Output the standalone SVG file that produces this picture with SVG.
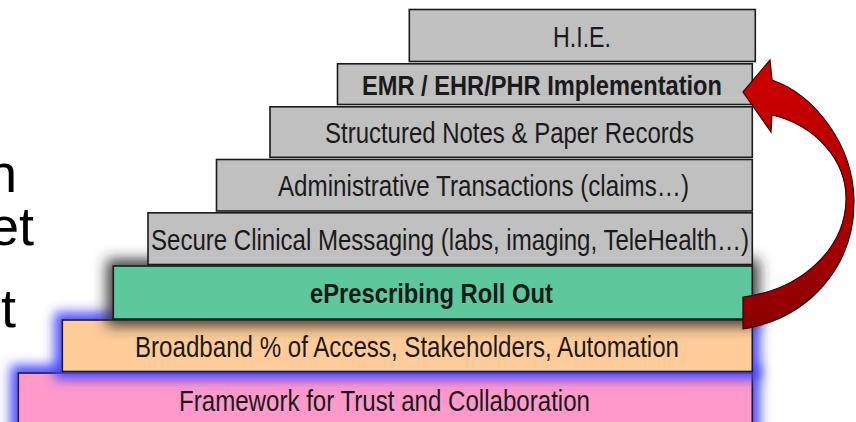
<svg xmlns="http://www.w3.org/2000/svg" width="856" height="422" viewBox="0 0 856 422">
  <style>
    .bar { stroke: #1a1a1a; stroke-width: 1.6; }
    .gray { fill: #c0c0c0; }
    .lbl { font-family: "Liberation Sans", Arial, sans-serif; font-size: 29px; fill: #1a1a1a; text-anchor: middle; }
    .bold { font-weight: bold; font-size: 27px; }
    .side { font-family: "Liberation Sans", Arial, sans-serif; font-size: 54px; fill: #000; text-anchor: end; }
  </style>
  <defs>
    <filter id="glowBlue" filterUnits="userSpaceOnUse" x="-20" y="280" width="900" height="160">
      <feMorphology in="SourceAlpha" operator="dilate" radius="7" result="d"/>
      <feGaussianBlur in="d" stdDeviation="6" result="b"/>
      <feFlood flood-color="#4444ff" flood-opacity="0.95"/>
      <feComposite in2="b" operator="in" result="g"/>
      <feMerge><feMergeNode in="g"/><feMergeNode in="SourceGraphic"/></feMerge>
    </filter>
    <filter id="glowGray" filterUnits="userSpaceOnUse" x="40" y="220" width="800" height="150">
      <feMorphology in="SourceAlpha" operator="dilate" radius="6" result="d"/>
      <feGaussianBlur in="d" stdDeviation="7" result="b"/>
      <feFlood flood-color="#2a2a2a" flood-opacity="0.9"/>
      <feComposite in2="b" operator="in" result="g"/>
      <feMerge><feMergeNode in="g"/><feMergeNode in="SourceGraphic"/></feMerge>
    </filter>
    <linearGradient id="arrowFill" x1="0" y1="60" x2="0" y2="330" gradientUnits="userSpaceOnUse">
      <stop offset="0" stop-color="#d00000"/>
      <stop offset="0.5" stop-color="#b00000"/>
      <stop offset="1" stop-color="#8c0000"/>
    </linearGradient>
  </defs>
  <rect width="856" height="422" fill="#ffffff"/>

  <g id="side-text">
    <text class="side" x="17" y="192">n</text>
    <text class="side" x="34" y="245">et</text>
    <text class="side" x="16" y="327">t</text>
  </g>

  <g id="framework">
    <rect class="bar" x="18.3" y="373" width="734" height="60" fill="#ff99cc" filter="url(#glowBlue)"/>
  </g>
  <g id="broadband">
    <rect class="bar" x="62.3" y="320" width="690" height="51.5" fill="#ffcc99" filter="url(#glowBlue)"/>
  </g>
  <g id="eprescribing">
    <rect class="bar" x="113.3" y="266" width="639" height="53" fill="#5cc89c" filter="url(#glowGray)"/>
  </g>
  <g id="secure">
    <rect class="bar gray" x="148" y="212.8" width="604.3" height="51.7"/>
  </g>
  <g id="administrative">
    <rect class="bar gray" x="216.5" y="159.5" width="535.8" height="51.5"/>
  </g>
  <g id="structured">
    <rect class="bar gray" x="270" y="106.8" width="482.3" height="50.5"/>
  </g>
  <g id="emr">
    <rect class="bar gray" x="337.5" y="63.8" width="414.8" height="40.7"/>
  </g>
  <g id="hie">
    <rect class="bar gray" x="409.3" y="9.5" width="346" height="52"/>
  </g>

  <g id="labels">
    <text class="lbl" x="582" y="46.5" textLength="58" lengthAdjust="spacingAndGlyphs">H.I.E.</text>
    <text class="lbl bold" x="542" y="95" textLength="360" lengthAdjust="spacingAndGlyphs">EMR / EHR/PHR Implementation</text>
    <text class="lbl" x="509.5" y="143" textLength="369" lengthAdjust="spacingAndGlyphs">Structured Notes &amp; Paper Records</text>
    <text class="lbl" x="483.5" y="196" textLength="411" lengthAdjust="spacingAndGlyphs">Administrative Transactions (claims…)</text>
    <text class="lbl" x="450" y="249.5" textLength="598" lengthAdjust="spacingAndGlyphs">Secure Clinical Messaging (labs, imaging, TeleHealth…)</text>
    <text class="lbl bold" x="431.5" y="303" textLength="243" lengthAdjust="spacingAndGlyphs">ePrescribing Roll Out</text>
    <text class="lbl" x="407" y="357" textLength="544" lengthAdjust="spacingAndGlyphs">Broadband % of Access, Stakeholders, Automation</text>
    <text class="lbl" x="384.5" y="411" textLength="411" lengthAdjust="spacingAndGlyphs">Framework for Trust and Collaboration</text>
  </g>

  <g id="connectors">
    <path d="M743,92 L770,60 L772,80 C815,95 853,145 854,200 C855,265 810,318 743,329 L743,297 C800,290 845,250 846,200 C847,160 815,125 772,115 L771,132 Z" fill="url(#arrowFill)" stroke="#3a0000" stroke-width="1.2" stroke-linejoin="miter"/>
  </g>
</svg>
